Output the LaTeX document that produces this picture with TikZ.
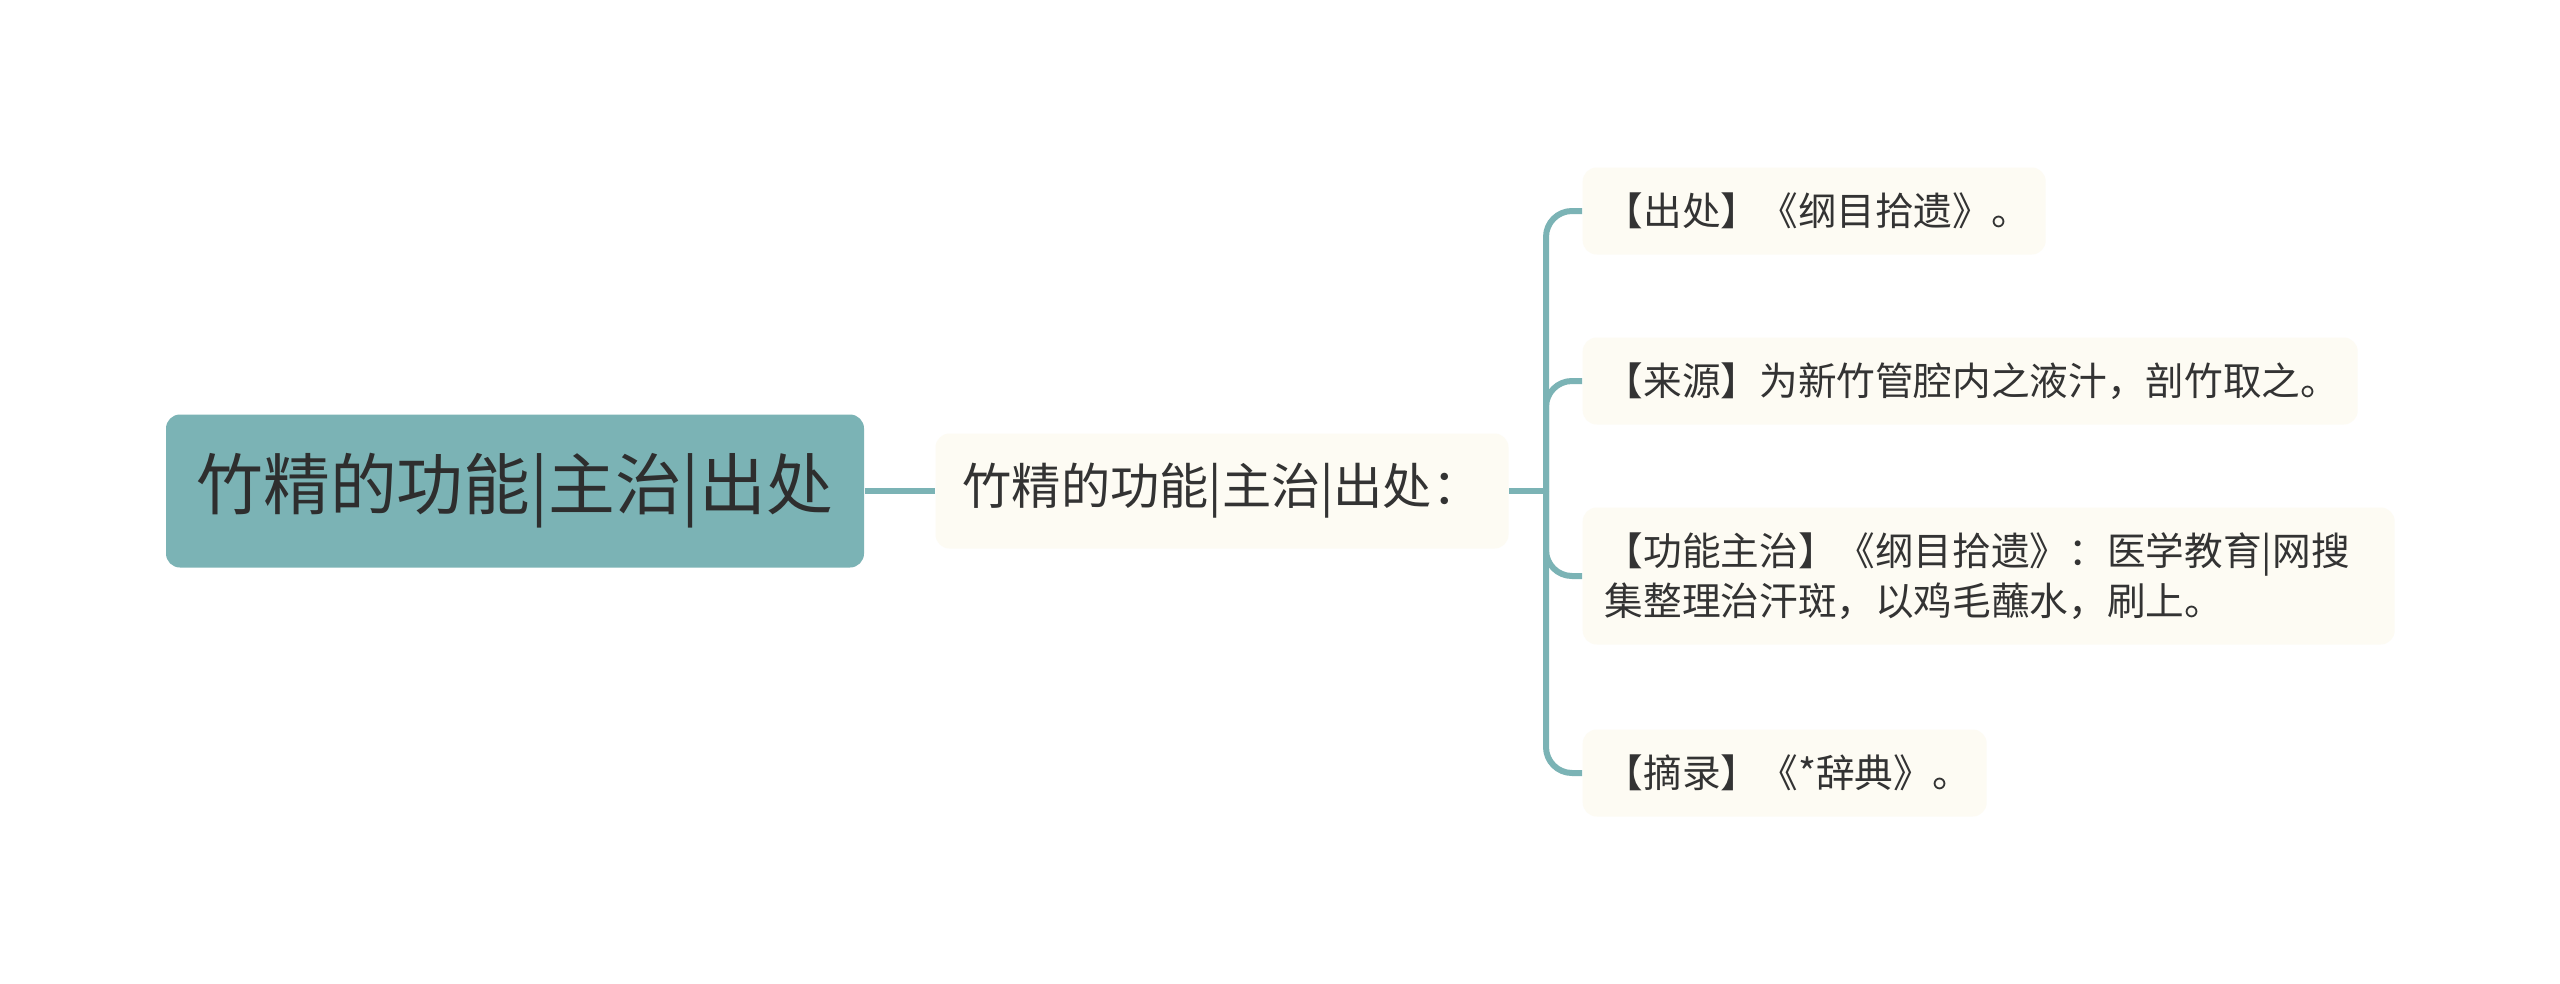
\documentclass[tikz,border=0pt]{standalone}
\usepackage{fontspec}
\newfontfamily\cjk{Noto Sans CJK SC}
\usepackage{tikz}
\definecolor{topicteal}{RGB}{123,179,181}
\definecolor{leafcream}{RGB}{253,251,243}
\definecolor{inkgray}{RGB}{51,51,51}

\begin{document}
\begin{tikzpicture}[x=0.1mm, y=-0.1mm,
	box/.style={rounded corners=1.4mm, inner sep=0pt, font=\cjk, text=inkgray},
	leaf/.style={box, fill=leafcream, anchor=west, minimum height=8.7mm, inner xsep=2.2mm, align=left,
		font=\cjk\fontsize{11pt}{14.2pt}\selectfont},
	link/.style={draw=topicteal, line width=0.6mm, rounded corners=2.6mm}]
	\useasboundingbox[fill=white] (0,0) rectangle (2560,983);
	\node[box, fill=topicteal, minimum width=69.8mm, minimum height=15.3mm,
		font=\cjk\fontsize{19pt}{22pt}\selectfont, text=black!82] (root) at (515,491) {竹精的功能|主治|出处};
	\node[box, fill=leafcream, minimum width=57.3mm, minimum height=11.5mm,
		font=\cjk\fontsize{14pt}{16pt}\selectfont] (sub) at (1222,491) {竹精的功能|主治|出处：};
	\coordinate (hub) at (1546,491);
	\node[leaf, text width=41.9mm] (src) at (1582,211) {【出处】《纲目拾遗》。};
	\node[leaf, text width=73.1mm] (orig) at (1582,381) {【来源】为新竹管腔内之液汁，剖竹取之。};
	\node[leaf, text width=76.8mm, minimum height=13.7mm] (func) at (1582,576)
		{【功能主治】《纲目拾遗》：医学教育|网搜\\集整理治汗斑，以鸡毛蘸水，刷上。};
	\node[leaf, text width=36.0mm] (ref) at (1582,773) {【摘录】《*辞典》。};
	\draw[link] (root.east) -- (sub.west);
	\draw[link] (sub.east) -- (hub);
	\foreach \n in {src,orig,func,ref} {
		\draw[link] (hub) |- (\n.west);
	}
\end{tikzpicture}
\end{document}
